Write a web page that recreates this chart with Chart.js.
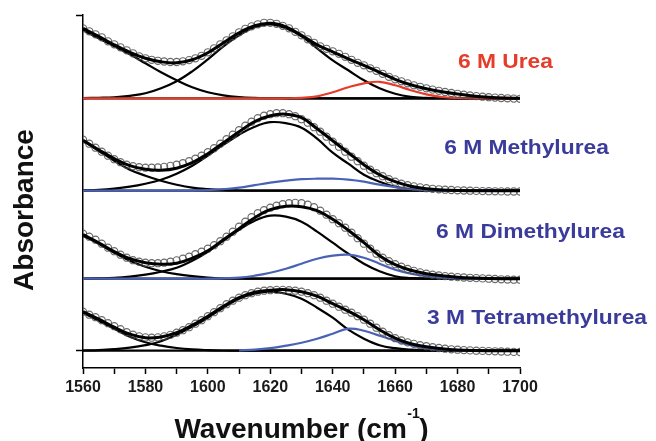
<!DOCTYPE html>
<html>
<head>
<meta charset="utf-8">
<title>Amide I band fits</title>
<script src="https://cdn.jsdelivr.net/npm/chart.js@4.4.1/dist/chart.umd.min.js"></script>
<style>
  html, body { margin: 0; padding: 0; background: #fff; }
  canvas { display: block; }
</style>
</head>
<body>
<canvas id="spectra" width="656" height="441"></canvas>
<script>
// ─── Data (absorbance in arbitrary units) ────────────────────────────────────
const PANEL_NAMES = ['6 M Urea', '6 M Methylurea', '6 M Dimethylurea', '3 M Tetramethylurea'];
const OFFSETS = [252.4, 160, 72, 0];          // vertical stacking of the spectra

// x grid of the measured points (every 2 cm-1)
const WN_DATA = [
  1560, 1562, 1564, 1566, 1568, 1570, 1572, 1574, 1576, 1578,
  1580, 1582, 1584, 1586, 1588, 1590, 1592, 1594, 1596, 1598,
  1600, 1602, 1604, 1606, 1608, 1610, 1612, 1614, 1616, 1618,
  1620, 1622, 1624, 1626, 1628, 1630, 1632, 1634, 1636, 1638,
  1640, 1642, 1644, 1646, 1648, 1650, 1652, 1654, 1656, 1658,
  1660, 1662, 1664, 1666, 1668, 1670, 1672, 1674, 1676, 1678,
  1680, 1682, 1684, 1686, 1688, 1690, 1692, 1694, 1696, 1698,
  1700
];
// x grid of the fitted curves (every 5 cm-1)
const WN_FIT = [
  1560, 1565, 1570, 1575, 1580, 1585, 1590, 1595, 1600, 1605,
  1610, 1615, 1620, 1625, 1630, 1635, 1640, 1645, 1650, 1655,
  1660, 1665, 1670, 1675, 1680, 1685, 1690, 1695, 1700
];
const X_TICKS = [1560, 1580, 1600, 1620, 1640, 1660, 1680, 1700];

// 6 M Urea
const UREA_DATA = [
  70, 67, 64, 61, 57, 54, 51, 48, 45, 42,
  40, 38.5, 37.5, 36.8, 36.3, 36.3, 37, 38.2, 40, 42.5,
  46, 50, 54, 58, 62, 66, 69.5, 72, 74, 75.5,
  75.5, 74.5, 72.5, 70, 66.5, 63, 59, 55.5, 52, 49.5,
  47, 44.5, 41.5, 38.5, 35.5, 33, 30, 27.5, 24.5, 21.5,
  19, 17, 15, 13, 11.5, 10, 8.7, 7.5, 6.3, 5.3,
  4.5, 3.6, 2.8, 2.2, 1.6, 1.1, 0.7, 0.3, 0, -0.3,
  -0.5
];
const UREA_FIT = [70, 62, 53.5, 46, 40, 36.5, 35.5, 38.5, 45.5, 55.5, 65.5, 72.5, 75, 71.5, 63, 53.5, 46.5, 39.5, 33, 26, 19, 13.5, 9.5, 6.5, 4.2, 2.4, 1.1, 0.3, 0];
const UREA_BAND1 = [68, 60, 52, 44, 35, 26, 18, 11, 6, 3, 1.3, 0.5, 0.2, 0, 0, 0, 0, 0, 0, 0, 0, 0, 0, 0, 0, 0, 0, 0, 0];
const UREA_BAND2 = [0.2, 0.5, 1, 2.5, 5, 10, 17, 27, 39, 52, 63, 71, 74, 70, 62, 50, 38, 28, 18, 10, 4.5, 1.5, 0.4, 0.1, 0, 0, 0, 0, 0];
const UREA_BAND3 = [0, 0, 0, 0, 0, 0, 0, 0, 0, 0, 0, 0, 0, 0, 0.5, 2, 6, 11, 15, 16.5, 13, 8, 4, 1.3, 0.3, 0, 0, 0, 0];

// 6 M Methylurea
const MU_DATA = [
  51, 47, 43, 39, 35, 31.5, 28.5, 26, 24.5, 23.5,
  23, 23, 23.2, 23.8, 24.8, 26, 27.5, 29.5, 32, 35,
  38.5, 42.5, 47, 51.5, 56, 60.5, 65, 69, 72.5, 75,
  76.5, 77.5, 77.5, 76.5, 74.5, 71.5, 68, 63.5, 59, 54,
  49, 44, 39, 34, 29.5, 25, 21, 17.5, 14.5, 11.5,
  9, 7, 5.5, 4.3, 3.3, 2.5, 1.9, 1.4, 1, 0.7,
  0.4, 0.2, 0, -0.2, -0.4, -0.5, -0.6, -0.7, -0.8, -0.8,
  -0.8
];
const MU_FIT = [50.5, 41, 32, 25, 21.5, 20.5, 22.5, 28, 37, 48, 59, 69, 75, 76.5, 73, 62, 50, 38, 26, 16, 9, 4.5, 2, 0.8, 0.2, 0, 0, 0, 0];
const MU_BAND1 = [50, 40, 30, 21, 15, 10, 6, 3, 1.5, 0.6, 0.2, 0, 0, 0, 0, 0, 0, 0, 0, 0, 0, 0, 0, 0, 0, 0, 0, 0, 0];
const MU_BAND2 = [0.3, 0.8, 2, 4, 7, 11, 17, 25, 35, 46, 56, 64, 68.5, 67.5, 63, 52, 38, 27, 16, 9, 4, 1.5, 0.5, 0.1, 0, 0, 0, 0, 0];
const MU_BAND3 = [0, 0, 0, 0, 0, 0, 0, 0, 0.5, 1.5, 3, 5.5, 8, 10, 11.5, 12, 12, 11, 9, 6, 3.5, 1.5, 0.5, 0.1, 0, 0, 0, 0, 0];

// 6 M Dimethylurea
const DMU_DATA = [
  45, 42, 39, 35, 31, 27.5, 24, 21, 18.5, 17,
  16, 15.5, 15.5, 16, 17, 18.3, 20, 22, 24.5, 27,
  30, 33.5, 37.5, 42, 47, 52, 57, 61.5, 65.5, 68.5,
  71, 73, 74.5, 75.5, 75.8, 75.5, 74, 71.5, 68, 64,
  59.5, 55.5, 51, 46, 40.5, 35, 30, 25, 21, 17.5,
  14.5, 12, 9.7, 7.8, 6.3, 5, 4, 3.2, 2.6, 2,
  1.6, 1.2, 0.9, 0.6, 0.3, 0, -0.3, -0.6, -0.8, -1,
  -1
];
const DMU_FIT = [44, 36, 27, 20, 16, 14.5, 15.5, 20.5, 28, 39, 50, 61, 69, 72.5, 72, 68, 59.5, 48.5, 36, 23, 14, 8.5, 5, 3, 1.5, 0.6, 0.1, 0, 0];
const DMU_BAND1 = [43, 35, 26, 18, 12, 7.5, 4.5, 2.5, 1.2, 0.5, 0.2, 0, 0, 0, 0, 0, 0, 0, 0, 0, 0, 0, 0, 0, 0, 0, 0, 0, 0];
const DMU_BAND2 = [0.1, 0.3, 0.8, 2, 4, 7, 11, 18, 27, 38, 49, 58, 63, 62, 57, 47, 36, 25, 15, 7.5, 2.5, 0.7, 0.1, 0, 0, 0, 0, 0, 0];
const DMU_BAND3 = [0, 0, 0, 0, 0, 0, 0, 0, 0, 0.5, 1, 3, 6, 10, 15, 20, 23, 24, 21, 15, 9, 5, 2.5, 1, 0.3, 0, 0, 0, 0];

// 3 M Tetramethylurea
const TMU_DATA = [
  39, 36, 33.5, 30.5, 27.5, 24.5, 21.5, 18.5, 16, 14.3,
  13.3, 13, 13.3, 14.3, 15.8, 18, 20.5, 23.5, 27, 30.5,
  34.5, 38.5, 42.5, 46.5, 50, 53, 55.5, 57.5, 59, 60,
  60.5, 60.8, 60.8, 60.5, 60, 59, 57.5, 55.5, 53, 50,
  47, 44, 41, 38, 34.5, 31, 27, 23, 19, 15.5,
  12.5, 10.2, 8.3, 6.8, 5.5, 4.5, 3.5, 2.7, 2, 1.4,
  1, 0.6, 0.3, 0, -0.2, -0.4, -0.6, -0.8, -1, -1.2,
  -1.3
];
const TMU_FIT = [39, 31.5, 23.5, 16.5, 13, 13.8, 18, 25.5, 34.5, 44.5, 53, 58.5, 60.5, 61, 59, 54.5, 47, 39.5, 31, 21, 12.5, 7, 4, 2, 0.8, 0.2, 0, 0, 0];
const TMU_BAND1 = [38, 30, 22, 14, 8.5, 5, 2.7, 1.3, 0.6, 0.2, 0, 0, 0, 0, 0, 0, 0, 0, 0, 0, 0, 0, 0, 0, 0, 0, 0, 0, 0];
const TMU_BAND2 = [0.2, 0.6, 1.5, 3, 5.5, 9.5, 16, 24, 33, 43, 52, 57, 59, 57, 52, 43, 33, 21, 12, 5.5, 2.5, 1, 0.3, 0, 0, 0, 0, 0, 0];
const TMU_BAND3 = [null, null, null, null, null, null, null, null, null, null, 0.3, 1, 2.5, 5, 8, 12, 17, 22, 20, 15, 10, 5.5, 2.5, 1, 0.3, 0, 0, 0, 0];

const PANEL_DATA = [UREA_DATA, MU_DATA, DMU_DATA, TMU_DATA];
const PANEL_FIT = [UREA_FIT, MU_FIT, DMU_FIT, TMU_FIT];
const PANEL_BAND1 = [UREA_BAND1, MU_BAND1, DMU_BAND1, TMU_BAND1];
const PANEL_BAND2 = [UREA_BAND2, MU_BAND2, DMU_BAND2, TMU_BAND2];
const PANEL_BAND3 = [UREA_BAND3, MU_BAND3, DMU_BAND3, TMU_BAND3];

// ─── Styling ──────────────────────────────────────────────────────────────────
const FONT = "'Liberation Sans', Arial, Helvetica, sans-serif";
const RED = '#e63c2a';
const BLUE_LINE = '#4a62b6';
const BLUE_TEXT = '#3b3b9c';
const PANEL_LINE_COLORS = [RED, BLUE_LINE, BLUE_LINE, BLUE_LINE];
const PANEL_TEXT_COLORS = [RED, BLUE_TEXT, BLUE_TEXT, BLUE_TEXT];
// label anchors in data coordinates (left edge, text baseline)
const LABEL_ANCHORS = [
  { x: 1680.1, y: 282.7 },
  { x: 1675.7, y: 196.7 },
  { x: 1673.1, y: 112.7 },
  { x: 1670.2, y: 26.7 },
];
const Y_MIN = -17.3, Y_MAX = 335.7;

function shifted(xs, ys, off) {
  return xs.map((x, j) => ({ x, y: ys[j] == null ? null : ys[j] + off }));
}

function lineSet(points, color, width, order) {
  return {
    data: points,
    borderColor: color,
    borderWidth: width,
    pointRadius: 0,
    fill: false,
    tension: 0.4,
    spanGaps: false,
    order,
  };
}

const datasets = [];
PANEL_NAMES.forEach((name, i) => {
  const off = OFFSETS[i];
  datasets.push(lineSet([{ x: WN_FIT[0], y: off }, { x: WN_FIT[WN_FIT.length - 1], y: off }], '#000', 2.2, 6));
  datasets.push(lineSet(shifted(WN_FIT, PANEL_BAND1[i], off), '#000', 2.2, 5));
  datasets.push(lineSet(shifted(WN_FIT, PANEL_BAND2[i], off), '#000', 2.2, 5));
  datasets.push(lineSet(shifted(WN_FIT, PANEL_BAND3[i], off), PANEL_LINE_COLORS[i], 2.2, 4));
  datasets.push({
    label: name,
    data: shifted(WN_DATA, PANEL_DATA[i], off),
    showLine: false,
    pointStyle: 'circle',
    pointRadius: 3.6,
    pointBorderWidth: 1.1,
    pointBorderColor: 'rgba(80,80,80,0.85)',
    pointBackgroundColor: 'rgba(255,255,255,0)',
    order: 3,
  });
  datasets.push(lineSet(shifted(WN_FIT, PANEL_FIT[i], off), '#000', 3, 2));
});

// ─── Text overlay: axis titles and sample labels ─────────────────────────────
const textPlugin = {
  id: 'textOverlay',
  afterDraw(chart) {
    const { ctx, scales: { x, y } } = chart;
    ctx.save();
    ctx.fillStyle = '#111';

    // y title
    ctx.save();
    ctx.translate(33, 210);
    ctx.rotate(-Math.PI / 2);
    ctx.font = `bold 28px ${FONT}`;
    ctx.textAlign = 'center';
    ctx.textBaseline = 'alphabetic';
    ctx.fillText('Absorbance', 0, 0);
    ctx.restore();

    // x title with superscript
    const main = 'Wavenumber (cm', sup = '-1', close = ')';
    ctx.textBaseline = 'alphabetic';
    ctx.textAlign = 'left';
    ctx.font = `bold 28px ${FONT}`;
    const w1 = ctx.measureText(main).width, w3 = ctx.measureText(close).width;
    ctx.font = `bold 14px ${FONT}`;
    const w2 = ctx.measureText(sup).width;
    const cx = (x.left + x.right) / 2;
    const tx = cx - (w1 + w2 + w3) / 2;
    ctx.font = `bold 28px ${FONT}`;
    ctx.fillText(main, tx, 438);
    ctx.font = `bold 14px ${FONT}`;
    ctx.fillText(sup, tx + w1 + 0.5, 418);
    ctx.font = `bold 28px ${FONT}`;
    ctx.fillText(close, tx + w1 + w2, 438);

    // sample labels
    ctx.font = `bold 20px ${FONT}`;
    PANEL_NAMES.forEach((name, i) => {
      const px = x.getPixelForValue(LABEL_ANCHORS[i].x);
      const py = y.getPixelForValue(LABEL_ANCHORS[i].y);
      ctx.save();
      ctx.translate(px, py);
      ctx.scale(1.14, 1);
      ctx.fillStyle = PANEL_TEXT_COLORS[i];
      ctx.fillText(name, 0, 0);
      ctx.restore();
    });
    ctx.restore();
  }
};

new Chart(document.getElementById('spectra'), {
  type: 'line',
  data: { datasets },
  options: {
    responsive: false,
    animation: false,
    layout: { padding: { top: 15, right: 136, bottom: 0, left: 0 } },
    plugins: { legend: { display: false }, tooltip: { enabled: false } },
    events: [],
    scales: {
      x: {
        type: 'linear',
        min: 1560,
        max: 1700,
        afterBuildTicks: s => {
          s.ticks = WN_FIT.filter(v => v % 10 === 0).map(v => ({ value: v }));
        },
        afterFit: s => { s.height = 73; },
        ticks: {
          autoSkip: false,
          maxRotation: 0,
          padding: 4,
          color: '#1a1a1a',
          font: { family: FONT, size: 16, weight: 'bold' },
          callback: v => (X_TICKS.includes(v) ? String(v) : ''),
        },
        grid: { drawOnChartArea: false, tickLength: 6, tickWidth: 1.5, tickColor: '#000' },
        border: { color: '#000', width: 1.5 },
      },
      y: {
        type: 'linear',
        min: Y_MIN,
        max: Y_MAX,
        afterBuildTicks: s => { s.ticks = [{ value: 0 }, { value: Y_MAX }]; },
        afterFit: s => { s.width = 83; },
        ticks: { display: false },
        grid: { drawOnChartArea: false, tickLength: 7, tickWidth: 1.5, tickColor: '#000' },
        border: { color: '#000', width: 1.5 },
      }
    }
  },
  plugins: [textPlugin]
});
</script>
</body>
</html>
